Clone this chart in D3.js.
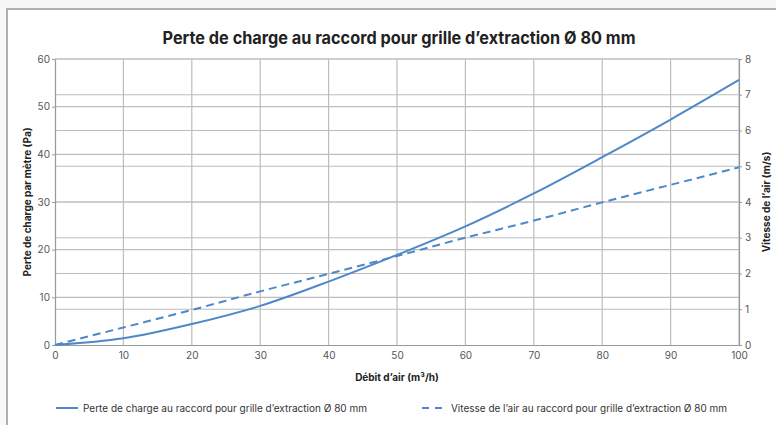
<!DOCTYPE html>
<html>
<head>
<meta charset="utf-8">
<script src="https://cdn.jsdelivr.net/npm/d3@7"></script>
<style>
  html, body { margin: 0; padding: 0; background: #f7f7f7; }
  svg { display: block; font-family: Inter, "Noto Sans", sans-serif; }
</style>
</head>
<body>
<svg id="chart" width="776" height="425"></svg>
<script>
// Airflow (m³/h)
const debit = [0, 10, 20, 30, 40, 50, 60, 70, 80, 90, 100];
// Pressure loss (Pa)
const perte = [0, 1.4, 4.4, 8.2, 13.3, 18.9, 24.9, 31.8, 39.4, 47.3, 55.6];
// Air speed (m/s)
const vitesse = [0, 0.49, 0.98, 1.5, 1.99, 2.49, 3.0, 3.48, 3.99, 4.48, 4.97];

const xTicks = [0, 10, 20, 30, 40, 50, 60, 70, 80, 90, 100];
const yLeftTicks = [0, 10, 20, 30, 40, 50, 60];
const yRightTicks = [0, 1, 2, 3, 4, 5, 6, 7, 8];

const titre = "Perte de charge au raccord pour grille d’extraction Ø 80 mm";
const titreX = "Débit d’air (m³/h)";
const titreYGauche = "Perte de charge par mètre (Pa)";
const titreYDroite = "Vitesse de l’air (m/s)";
const legende1 = "Perte de charge au raccord pour grille d’extraction Ø 80 mm";
const legende2 = "Vitesse de l’air au raccord pour grille d’extraction Ø 80 mm";

const svg = d3.select("#chart");
const blue = "#4d88c9";
const gridColor = "#bdbdbd";
const tickColor = "#555";

// white card with grey frame
svg.append("rect")
  .attr("x", 7).attr("y", 9).attr("width", 800).attr("height", 450)
  .attr("fill", "#fff").attr("stroke", "#b0b0b0").attr("stroke-width", 2);

const pLeft = 55, pRight = 739, pTop = 59, pBottom = 345;
const x = d3.scaleLinear().domain([0, 100]).range([pLeft, pRight]);
const yL = d3.scaleLinear().domain([0, 60]).range([pBottom, pTop]);
const yR = d3.scaleLinear().domain([0, 8]).range([pBottom, pTop]);

// grid
const grid = svg.append("g").attr("stroke", gridColor).attr("stroke-width", 1.2);
grid.selectAll(".gx").data(xTicks.slice(1)).join("line")
  .attr("x1", d => x(d)).attr("x2", d => x(d)).attr("y1", pTop).attr("y2", pBottom);
grid.selectAll(".gl").data(yLeftTicks.slice(1)).join("line")
  .attr("x1", pLeft).attr("x2", pRight).attr("y1", d => yL(d)).attr("y2", d => yL(d));
grid.selectAll(".gr").data(yRightTicks.slice(1)).join("line")
  .attr("x1", pLeft).attr("x2", pRight).attr("y1", d => yR(d)).attr("y2", d => yR(d));

// axes
function styleAxis(g) {
  g.selectAll(".domain").attr("stroke", "#999").attr("stroke-width", 1.2);
  g.selectAll(".tick line").attr("stroke", "#999");
  g.selectAll(".tick text").attr("fill", tickColor).style("font-size", "10px")
    .style("font-family", "Inter, 'Noto Sans', sans-serif");
}
svg.append("g").attr("transform", `translate(0,${pBottom})`)
  .call(d3.axisBottom(x).tickValues(xTicks).tickSize(0).tickPadding(7).tickSizeOuter(0))
  .call(styleAxis);
svg.append("g").attr("transform", `translate(${pLeft},0)`)
  .call(d3.axisLeft(yL).tickValues(yLeftTicks).tickSize(3).tickPadding(2).tickSizeOuter(0))
  .call(styleAxis);
svg.append("g").attr("transform", `translate(${pRight},0)`)
  .call(d3.axisRight(yR).tickValues(yRightTicks).tickSize(3).tickPadding(3).tickSizeOuter(0))
  .call(styleAxis);

// series
const lineL = d3.line().x((d, i) => x(debit[i])).y(d => yL(d)).curve(d3.curveMonotoneX);
const lineR = d3.line().x((d, i) => x(debit[i])).y(d => yR(d)).curve(d3.curveMonotoneX);
svg.append("path").datum(vitesse).attr("d", lineR).attr("fill", "none")
  .attr("stroke", blue).attr("stroke-width", 2).attr("stroke-dasharray", "8,5");
svg.append("path").datum(perte).attr("d", lineL).attr("fill", "none")
  .attr("stroke", blue).attr("stroke-width", 2);

// titles
svg.append("text").attr("x", 399).attr("y", 44).attr("text-anchor", "middle")
  .style("font-size", "17px").style("font-weight", "700").attr("fill", "#222")
  .attr("textLength", 473).attr("lengthAdjust", "spacingAndGlyphs").text(titre);
svg.append("text").attr("x", 397).attr("y", 381).attr("text-anchor", "middle")
  .style("font-size", "10px").style("font-weight", "700").attr("fill", "#222").text(titreX);
svg.append("text").attr("transform", `translate(31,${(pTop + pBottom) / 2}) rotate(-90)`)
  .attr("text-anchor", "middle").style("font-size", "10px").style("font-weight", "700")
  .attr("fill", "#222").text(titreYGauche);
svg.append("text").attr("transform", `translate(770,${(pTop + pBottom) / 2}) rotate(-90)`)
  .attr("text-anchor", "middle").style("font-size", "10px").style("font-weight", "700")
  .attr("fill", "#222").text(titreYDroite);

// legend
const ly = 408;
svg.append("line").attr("x1", 56).attr("x2", 78).attr("y1", ly).attr("y2", ly)
  .attr("stroke", blue).attr("stroke-width", 2);
svg.append("text").attr("x", 83).attr("y", ly + 3.5).style("font-size", "10px")
  .attr("fill", "#333").attr("textLength", 284).attr("lengthAdjust", "spacingAndGlyphs")
  .text(legende1);
svg.append("line").attr("x1", 422).attr("x2", 442).attr("y1", ly).attr("y2", ly)
  .attr("stroke", blue).attr("stroke-width", 2).attr("stroke-dasharray", "7,6");
svg.append("text").attr("x", 451).attr("y", ly + 3.5).style("font-size", "10px")
  .attr("fill", "#333").attr("textLength", 276).attr("lengthAdjust", "spacingAndGlyphs")
  .text(legende2);
</script>
</body>
</html>
